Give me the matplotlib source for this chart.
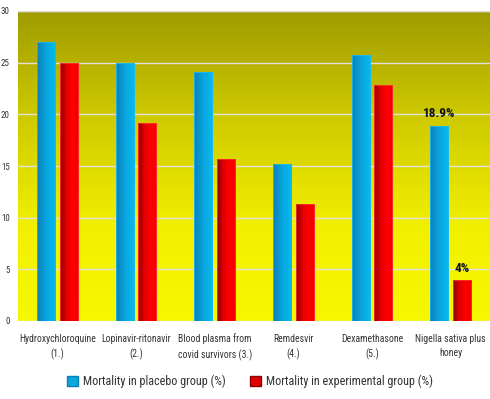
"""Mortality in placebo vs experimental groups for six COVID-19 treatments."""

import matplotlib

matplotlib.use("Agg")
import matplotlib.pyplot as plt
import numpy as np
from matplotlib import font_manager
from matplotlib.colors import LinearSegmentedColormap
from matplotlib.patches import Patch

categories = [
    "Hydroxychloroquine\n(1.)",
    "Lopinavir-ritonavir\n(2.)",
    "Blood plasma from\ncovid survivors (3.)",
    "Remdesvir\n(4.)",
    "Dexamethasone\n(5.)",
    "Nigella sativa plus\nhoney",
]
placebo = [27.0, 25.0, 24.1, 15.2, 25.7, 18.9]
experimental = [25.0, 19.2, 15.7, 11.3, 22.8, 4.0]
annotated = {5: ("18.9%", "4%")}
y_ticks = [0, 5, 10, 15, 20, 25, 30]

_BLUE_CMAP = LinearSegmentedColormap.from_list("blue", ["#0a7fb8", "#0aa6de", "#05bdf2"])
_RED_CMAP = LinearSegmentedColormap.from_list("red", ["#8c0000", "#e00000", "#ff0000", "#f00000"])
_BG_CMAP = LinearSegmentedColormap.from_list(
    "bg", [(0.0, "#f7f700"), (0.3, "#f2f000"), (0.65, "#cfcb00"), (1.0, "#a09b00")]
)

# narrow face if one is installed, else shrink the text
_installed = {f.name for f in font_manager.fontManager.ttflist}
_narrow = [n for n in ("Liberation Sans Narrow", "DejaVu Sans Condensed", "Roboto Condensed")
           if n in _installed]
if _narrow:
    plt.rcParams["font.family"] = [_narrow[0], "DejaVu Sans"]
    if _narrow[0] == "DejaVu Sans Condensed":
        plt.rcParams["font.stretch"] = "condensed"
    _scale = 1.0
else:
    plt.rcParams["font.family"] = ["Roboto", "DejaVu Sans"]
    _scale = 0.82


def _gradient_bars(ax, bars, cmap):
    grad = np.linspace(0, 1, 64).reshape(1, -1)
    for bar in bars:
        x, y = bar.get_x(), bar.get_y()
        w, h = bar.get_width(), bar.get_height()
        bar.set_facecolor("none")
        im = ax.imshow(
            grad, cmap=cmap, aspect="auto", extent=(x, x + w, y, y + h),
            zorder=2, interpolation="bilinear",
        )
        im.set_clip_path(bar)


fig = plt.figure(figsize=(4.9, 3.99), dpi=100)
ax = fig.add_axes([18 / 490, 78 / 399, 472 / 490, 310 / 399])

bg = np.linspace(0, 1, 256).reshape(-1, 1)
ax.imshow(
    bg, cmap=_BG_CMAP, aspect="auto", extent=(0, 1, 0, 1),
    transform=ax.transAxes, origin="lower", zorder=0,
)

x = np.arange(len(categories))
width = 0.23
offset = 0.145
b1 = ax.bar(x - offset, placebo, width, edgecolor="#22b8e8", linewidth=0.6, zorder=3)
b2 = ax.bar(x + offset, experimental, width, edgecolor="#ff3030", linewidth=0.6, zorder=3)
_gradient_bars(ax, b1, _BLUE_CMAP)
_gradient_bars(ax, b2, _RED_CMAP)

for i, (t1, t2) in annotated.items():
    ax.annotate(t1, (x[i] - offset, placebo[i]), xytext=(0, 4), textcoords="offset points",
                ha="center", va="bottom", fontsize=9.5 * _scale, fontweight="bold",
                color="#111111", zorder=4)
    ax.annotate(t2, (x[i] + offset, experimental[i]), xytext=(0, 3), textcoords="offset points",
                ha="center", va="bottom", fontsize=9.5 * _scale, fontweight="bold",
                color="#111111", zorder=4)

ax.set_xlim(-0.5, len(categories) - 0.5)
ax.set_ylim(0, 30)
ax.set_yticks(y_ticks)
ax.set_yticklabels([str(t) for t in y_ticks], fontsize=6.5 * _scale, color="#333333")
ax.set_xticks(x)
ax.set_xticklabels(categories, fontsize=7.0 * _scale, color="#333333", linespacing=1.55)
ax.tick_params(axis="both", length=0)
ax.tick_params(axis="x", pad=9)
ax.tick_params(axis="y", pad=6)
ax.grid(axis="y", color="#e0e0e0", linewidth=1.0, zorder=1)
ax.set_axisbelow(True)
for spine in ax.spines.values():
    spine.set_visible(False)
ax.axhline(30, color="#dddddd", linewidth=1.0, zorder=1)

handles = [
    Patch(facecolor="#0aa6de", edgecolor="#0a7fb8", label="Mortality in placebo group (%)"),
    Patch(facecolor="#e00000", edgecolor="#8c0000", label="Mortality in experimental group (%)"),
]
fig.legend(
    handles=handles, loc="center", bbox_to_anchor=(0.51, 0.045), ncol=2,
    frameon=False, fontsize=8.7 * _scale, handlelength=0.9, handleheight=0.9,
    handletextpad=0.4, columnspacing=2.0, labelcolor="#333333",
)

fig.savefig("out.png", dpi=100)
plt.close(fig)
